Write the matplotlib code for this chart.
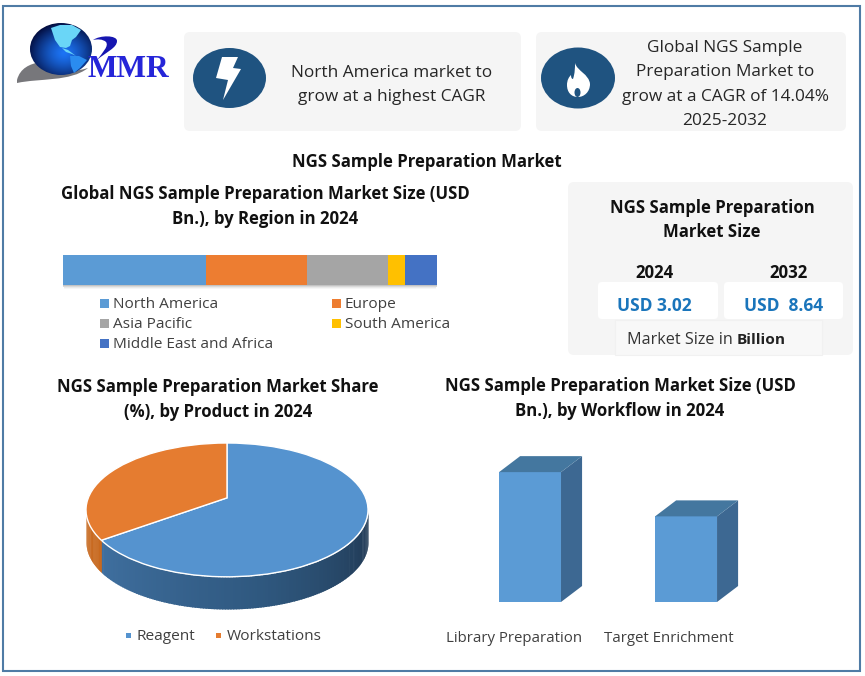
import numpy as np
import matplotlib
matplotlib.use('Agg')
import matplotlib.pyplot as plt
from matplotlib.patches import Ellipse, FancyBboxPatch, PathPatch, Polygon, Rectangle
from matplotlib.path import Path
from matplotlib.colors import to_rgb

plt.rcParams['font.family'] = ['Open Sans', 'DejaVu Sans']

# -----------------------------
# DATA
# -----------------------------
region_names = ['North America', 'Europe', 'Asia Pacific', 'South America', 'Middle East and Africa']
region_shares = [38.2, 27.0, 21.7, 4.5, 8.6]
region_colors = ['#5b9bd5', '#ed7d31', '#a5a5a5', '#ffc000', '#4472c4']

product_names = ['Reagent', 'Workstations']
product_shares = [67.5, 32.5]
product_colors = ['#5593cf', '#e57c30']

workflow_names = ['Library Preparation', 'Target Enrichment']
workflow_values = [1.82, 1.20]

years = ['2024', '2032']
sizes = ['USD 3.02', 'USD  8.64']

W, H = 865, 676
BODY, HEAD, SMALL = 12.4, 12.05, 11.1
fig = plt.figure(figsize=(W / 100, H / 100), dpi=100, facecolor='white')


def px_axes(x0, y0, x1, y1):
    # axes placed by pixel box, y counted from the top like the reference
    ax = fig.add_axes([x0 / W, 1 - y1 / H, (x1 - x0) / W, (y1 - y0) / H])
    ax.patch.set_alpha(0)
    return ax


bg = px_axes(0, 0, W, H)
bg.set_xlim(0, W)
bg.set_ylim(H, 0)
bg.axis('off')


def label(x, y, s, size=BODY, weight='normal', color='#262626', ha='center'):
    return bg.text(x, y + 2, s, fontsize=size, fontweight=weight, color=color, ha=ha, va='center')


def head(x, y, s):
    return label(x, y, s, size=HEAD, weight='bold', color='#111111')


def panel(x0, y0, x1, y1, color='#f5f5f5', r=6):
    bg.add_patch(FancyBboxPatch((x0 + r, y0 + r), x1 - x0 - 2 * r, y1 - y0 - 2 * r,
                                boxstyle=f'round,pad={r},rounding_size={r}',
                                fc=color, ec='none'))


# -----------------------------
# FRAME AND PANELS
# -----------------------------
bg.add_patch(Rectangle((3, 6), 857, 665, fc='none', ec='#4f7ba5', lw=1.5))
panel(184, 32, 521, 131)
panel(536, 32, 846, 131)
panel(568, 182, 853, 355)
panel(598, 282, 718, 319, color='white', r=4)
panel(724, 282, 843, 319, color='white', r=4)
bg.add_patch(Rectangle((615, 320), 207, 35, fc='#f8f8f8', ec='#f1f1f1', lw=0.8))

# -----------------------------
# LOGO
# -----------------------------
swoosh = Path([(17, 80), (20, 68), (30, 64), (40, 62), (40, 70), (60, 76), (88, 68),
               (70, 82), (40, 78), (17, 83), (17, 80)],
              [Path.MOVETO] + [Path.CURVE4] * 9 + [Path.CLOSEPOLY])
bg.add_patch(PathPatch(swoosh, fc='#77777b', ec='none'))

gx, gy = np.meshgrid(np.linspace(-1, 1, 120), np.linspace(-1, 1, 120))
dist = np.clip(np.hypot(gx - 0.1, gy - 0.15), 0, 1.2) / 1.2
inner, outer = np.array(to_rgb('#1c74f5')), np.array(to_rgb('#020a3a'))
globe_img = inner + (outer - inner) * dist[..., None] ** 1.4
im = bg.imshow(globe_img, extent=(30, 92, 75, 23), zorder=2, aspect='auto')
globe = Ellipse((61, 49), 62, 52, fc='none', ec='none', zorder=2)
bg.add_patch(globe)
im.set_clip_path(globe)
bg.add_patch(Polygon([(51, 28), (60, 25), (72, 25), (81, 30), (76, 37), (72, 40), (70, 46), (66, 48),
                      (60, 47), (55, 40)], fc='#6ad6f7', ec='none', zorder=3))
bg.add_patch(Polygon([(62, 48), (68, 50), (76, 56), (72, 54), (66, 52)], fc='#6ad6f7', ec='none', zorder=3))
bg.add_patch(Polygon([(70, 56), (79, 56), (87, 60), (80, 68), (74, 73), (71, 66)],
                     fc='#2a8cf0', ec='none', zorder=3))
hook = Path([(93, 40), (100, 35), (117, 35), (117, 41), (117, 48), (106, 52), (97, 60),
             (103, 52), (109, 46), (106, 42), (103, 39), (97, 39), (93, 40), (93, 40)],
            [Path.MOVETO] + [Path.CURVE4] * 12 + [Path.CLOSEPOLY])
bg.add_patch(PathPatch(hook, fc='#1616b0', ec='none', zorder=3))
bg.text(87, 77, 'MMR', fontsize=22.6, fontweight='bold', family='Liberation Serif',
        color='#2525d8', ha='left', va='baseline', zorder=4)

# -----------------------------
# ICONS
# -----------------------------
bg.add_patch(Ellipse((229.5, 78), 73, 60, fc='#1f5380', ec='none'))
bg.add_patch(Polygon([(222, 57), (238, 57), (233, 68), (241, 69), (223, 100), (228, 80), (216, 78)],
                     fc='white', ec='none'))
bg.add_patch(Ellipse((578, 78), 74, 61, fc='#1f5380', ec='none'))
flame = Path([(575, 63), (577, 71), (589, 74), (590, 84), (590, 92), (584, 97), (578, 97),
              (571, 97), (567, 92), (567, 85), (567, 80), (569, 77), (571, 75),
              (571, 78), (572, 79), (573, 79), (575, 73), (575, 68), (575, 63), (575, 63)],
             [Path.MOVETO] + [Path.CURVE4] * 18 + [Path.CLOSEPOLY])
bg.add_patch(PathPatch(flame, fc='white', ec='none'))
bg.add_patch(Ellipse((577.5, 92.5), 6, 9, fc='#1f5380', ec='none'))

# -----------------------------
# HEADLINES
# -----------------------------
label(392, 71, 'North America market to')
label(392, 95, 'grow at a highest CAGR')
label(725, 46, 'Global NGS Sample')
label(725, 70, 'Preparation Market to')
label(725, 95, 'grow at a CAGR of 14.04%')
label(725, 119, '2025-2032')
head(427, 160, 'NGS Sample Preparation Market')

head(265, 192, 'Global NGS Sample Preparation Market Size (USD')
head(265, 217, 'Bn.), by Region in 2024')
head(218, 385, 'NGS Sample Preparation Market Share')
head(218, 410, '(%), by Product in 2024')
head(620, 384, 'NGS Sample Preparation Market Size (USD')
head(620, 409, 'Bn.), by Workflow in 2024')

# -----------------------------
# MARKET SIZE PANEL
# -----------------------------
head(712, 206, 'NGS Sample Preparation')
head(712, 230, 'Market Size')
for x, yr in zip([654, 789], years):
    head(x, 271, yr)
for x, s in zip([654, 784], sizes):
    label(x, 304, s, size=12.5, weight='bold', color='#1a75bb')
label(627, 338, 'Market Size in', size=11.6, ha='left', color='#333333')
label(737, 338, 'Billion', size=SMALL, ha='left', weight='bold', color='#222222')

# -----------------------------
# REGION BAR
# -----------------------------
ax = px_axes(63, 255, 437, 285)
left = 0
for share, col in zip(region_shares, region_colors):
    ax.barh(0, share, left=left, height=1, color=col, edgecolor='none')
    left += share
ax.set_xlim(0, sum(region_shares))
ax.set_ylim(-0.5, 0.5)
ax.axis('off')
for i, alpha in enumerate([0.35, 0.22, 0.12, 0.05]):
    bg.add_patch(Rectangle((63 + i * 0.4, 285 + i), 374 - i * 0.8, 1.2, fc='#555555', ec='none', alpha=alpha))

legend_pos = [(100, 303), (332, 303), (100, 323), (332, 323), (100, 343)]
for (x, y), name, col in zip(legend_pos, region_names, region_colors):
    bg.add_patch(Rectangle((x, y - 4.5), 9, 9, fc=col, ec='none'))
    label(x + 13, y, name, size=SMALL, ha='left', color='#404040')

# -----------------------------
# PRODUCT PIE
# -----------------------------
ax = px_axes(86, 443, 368, 609)
depth = 32 / 66.5
wall_dark = ['#1f3650', '#2f587f', '#3f6f9f']
# side wall runs from the slice boundary round to the right edge
bound = 90 + product_shares[1] * 3.6
n_strips = 160
for i in range(n_strips):
    t0 = 180 + (360 - 180) * i / n_strips
    t1 = 180 + (360 - 180) * (i + 1.5) / n_strips
    th = np.radians(np.linspace(t0, t1, 4))
    if t0 < bound:
        col = '#c8691f'
    else:
        f = (t0 - bound) / (360 - bound)
        if f < 0.5:
            c0, c1 = to_rgb(wall_dark[2]), to_rgb(wall_dark[1])
            g = f / 0.5
        else:
            c0, c1 = to_rgb(wall_dark[1]), to_rgb(wall_dark[0])
            g = (f - 0.5) / 0.5
        col = tuple(np.array(c0) + (np.array(c1) - np.array(c0)) * g)
    ax.fill_between(np.cos(th), np.sin(th) - depth, np.sin(th), color=col, lw=0)

wedges, _ = ax.pie(product_shares, colors=product_colors, startangle=90, counterclock=False,
                   radius=1, wedgeprops={'edgecolor': 'white', 'linewidth': 1})
for w in wedges:
    # the apex sits above the ellipse centre because of the tilted view
    v = w.get_path().vertices
    v[np.hypot(v[:, 0], v[:, 1]) < 1e-6, 1] = 0.18
    w.set_clip_on(False)
ax.set_aspect('auto')
ax.set_xlim(-1, 1)
ax.set_ylim(-1 - depth, 1)
ax.axis('off')

for x, tx, name, col in zip([128, 218], [136, 227], product_names, product_colors):
    bg.add_patch(Rectangle((x - 2.5, 632.5), 5, 5, fc=col, ec='none'))
    label(tx, 635, name, size=SMALL, ha='left', color='#404040')

# -----------------------------
# WORKFLOW BARS
# -----------------------------
ax = px_axes(450, 445, 770, 602)
bars = ax.bar(range(len(workflow_values)), workflow_values, width=0.397, color='#5b9bd5', edgecolor='none')
ax.set_xlim(-0.513, 1.538)
ax.set_ylim(0, 2.2)
ax.axis('off')
dx, dy = 0.135, 0.224
for b in bars:
    x0, x1, h = b.get_x(), b.get_x() + b.get_width(), b.get_height()
    ax.fill([x1, x1 + dx, x1 + dx, x1], [0, dy, h + dy, h], color='#3d6892', lw=0)
    ax.fill([x0, x1, x1 + dx, x0 + dx], [h, h, h + dy, h + dy], color='#44779f', lw=0)

for x, name in zip([514.5, 669], workflow_names):
    label(x, 636, name, size=10.8, color='#404040')

fig.savefig('out.png', dpi=100)
